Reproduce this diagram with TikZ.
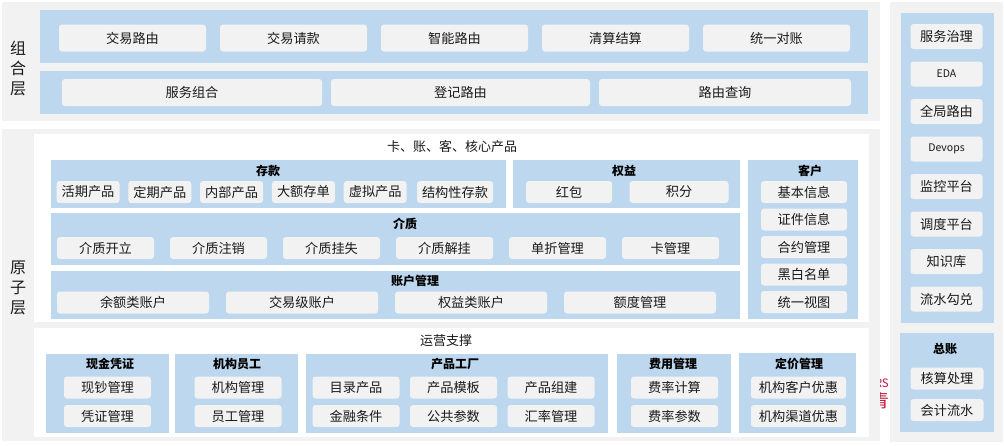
\documentclass[tikz,border=0pt]{standalone}
\usepackage{fontspec}
\setmainfont{Noto Sans CJK SC}
\usepackage{tikz}
\definecolor{panelgray}{HTML}{F2F2F2}
\definecolor{groupblue}{HTML}{BDD7EE}
\definecolor{itemgray}{HTML}{F2F2F2}
\definecolor{txt}{HTML}{1A1A1A}
\definecolor{stray}{HTML}{C0143C}
\tikzstyle{panel}=     [fill=panelgray]
\tikzstyle{sheet}=     [fill=white]
\tikzstyle{group}=     [fill=groupblue]
\tikzstyle{item}=      [fill=itemgray, rounded corners=3pt, inner sep=0pt, text=txt, font=\fontsize{13.2}{14}\selectfont]
\tikzstyle{head}=      [inner sep=0pt, font=\bfseries\fontsize{12}{14}\selectfont]
\tikzstyle{layer}=     [inner sep=0pt, text=txt, align=center, font=\fontsize{16}{20}\selectfont]
\tikzstyle{title}=     [inner sep=0pt, text=txt, font=\fontsize{13}{15}\selectfont]

\begin{document}
\begin{tikzpicture}[x=1pt,y=-1pt]
 \useasboundingbox (0,0) rectangle (1004,445);
 \def\ih{22}

 % clipped red text between the panels
 \node[text=stray, anchor=east, inner sep=0pt, font=\fontsize{11.5}{12}\selectfont] (strayS) at (889,383) {CRS};
 \node[text=stray, inner sep=0pt, font=\fontsize{18}{20}\selectfont] (strayQ) at (880,401) {青};

 % panels
 \fill[panel] (2,2) rectangle (880,121);
 \fill[panel] (2,129) rectangle (880,441);
 \fill[panel] (890,2) rectangle (1003,442);
 \fill[sheet] (34,134) rectangle (869,322);
 \fill[sheet] (34,328) rectangle (869,437);

 \node[layer] (zuhe) at (18,68) {组\\合\\层};
 \node[layer] (yuanzi) at (18,288) {原\\子\\层};

 % 组合层
 \fill[group] (40,10) rectangle (868,63);
 \fill[group] (40,71) rectangle (868,114);
 \foreach \t [count=\i from 0] in {交易路由,交易请款,智能路由,清算结算,统一对账}
 {
  \node[item, minimum width=147, minimum height=27] (route\i) at (132.5+161*\i,38) {\t};
 }
 \node[item, minimum width=260, minimum height=27] (svc0) at (192,92.5) {服务组合};
 \node[item, minimum width=259, minimum height=27] (svc1) at (460.5,92.5) {登记路由};
 \node[item, minimum width=252, minimum height=27] (svc2) at (725,92.5) {路由查询};

 % 原子层
 \node[title] (core) at (452,147) {卡、账、客、核心产品};

 \fill[group] (51,160) rectangle (506,208);
 \node[head] (cunkuan) at (268,171) {存款};
 \foreach \t [count=\i from 0] in {活期产品,定期产品,内部产品,大额存单,虚拟产品}
 {
  \node[item, minimum width=63, minimum height=\ih] (ck\i) at (88+71.8*\i,192) {\t};
 }
 \node[item, minimum width=76, minimum height=\ih] (ck5) at (455,192) {结构性存款};

 \fill[group] (513,160) rectangle (740,208);
 \node[head] (quanyi) at (624,171) {权益};
 \node[item, minimum width=86, minimum height=\ih] (qy0) at (569,192) {红包};
 \node[item, minimum width=99, minimum height=\ih] (qy1) at (679,192) {积分};

 \fill[group] (748,160) rectangle (858,319);
 \node[head] (kehu) at (810,171) {客户};
 \foreach \t [count=\i from 0] in {基本信息,证件信息,合约管理,黑白名单,统一视图}
 {
  \node[item, minimum width=86, minimum height=\ih] (kh\i) at (804,192+27.5*\i) {\t};
 }

 \fill[group] (51,213) rectangle (740,265);
 \node[head] (jiezhi) at (405,224) {介质};
 \foreach \t [count=\i from 0] in {介质开立,介质注销,介质挂失,介质解挂,单折管理,卡管理}
 {
  \node[item, minimum width=97, minimum height=\ih] (jz\i) at (105.5+113*\i,248) {\t};
 }

 \fill[group] (51,271) rectangle (740,319);
 \node[head] (zhanghu) at (415,281) {账户管理};
 \foreach \t [count=\i from 0] in {余额类账户,交易级账户,权益类账户,额度管理}
 {
  \node[item, minimum width=152, minimum height=\ih] (zh\i) at (133+169*\i,302.5) {\t};
 }

 % 运营支撑
 \node[title] (yunying) at (446,341) {运营支撑};

 \fill[group] (46,354) rectangle (169,433);
 \node[head] (xianjin) at (110,364) {现金凭证};
 \node[item, minimum width=87, minimum height=\ih] (xj0) at (107.5,387.5) {现钞管理};
 \node[item, minimum width=87, minimum height=\ih] (xj1) at (107.5,416) {凭证管理};

 \fill[group] (175,354) rectangle (298,433);
 \node[head] (jigou) at (237,364) {机构员工};
 \node[item, minimum width=87, minimum height=\ih] (jg0) at (238,387.5) {机构管理};
 \node[item, minimum width=87, minimum height=\ih] (jg1) at (238,416) {员工管理};

 \fill[group] (306,354) rectangle (608,433);
 \node[head] (gongchang) at (455,364) {产品工厂};
 \foreach \t [count=\i from 0] in {目录产品,产品模板,产品组建}
 {
  \node[item, minimum width=87, minimum height=\ih] (gc\i) at (356+97.5*\i,387.5) {\t};
 }
 \foreach \t [count=\i from 3] in {金融条件,公共参数,汇率管理}
 {
  \node[item, minimum width=87, minimum height=\ih] (gc\i) at (356+97.5*\i-292.5,416) {\t};
 }

 \fill[group] (617,354) rectangle (731,433);
 \node[head] (feiyong) at (673,364) {费用管理};
 \node[item, minimum width=87, minimum height=\ih] (fy0) at (674.5,387.5) {费率计算};
 \node[item, minimum width=87, minimum height=\ih] (fy1) at (674.5,416) {费率参数};

 \fill[group] (739,353) rectangle (856,433);
 \node[head] (dingjia) at (799,364) {定价管理};
 \node[item, minimum width=95, minimum height=\ih] (dj0) at (798.5,387.5) {机构客户优惠};
 \node[item, minimum width=95, minimum height=\ih] (dj1) at (798.5,416) {机构渠道优惠};

 % 右侧
 \fill[group] (901,13) rectangle (994,323);
 \foreach \t [count=\i from 0] in {服务治理,{\fontsize{10.5}{12}\selectfont EDA},全局路由,{\fontsize{10.5}{12}\selectfont Devops},监控平台,调度平台,知识库,流水勾兑}
 {
  \node[item, minimum width=72, minimum height=25] (pt\i) at (946.5,36.5+37.5*\i) {\t};
 }

 \fill[group] (900,333) rectangle (994,432);
 \node[head] (zongzhang) at (945,349) {总账};
 \node[item, minimum width=73, minimum height=\ih] (zz0) at (947,378.5) {核算处理};
 \node[item, minimum width=73, minimum height=\ih] (zz1) at (947,410) {会计流水};
\end{tikzpicture}
\end{document}
